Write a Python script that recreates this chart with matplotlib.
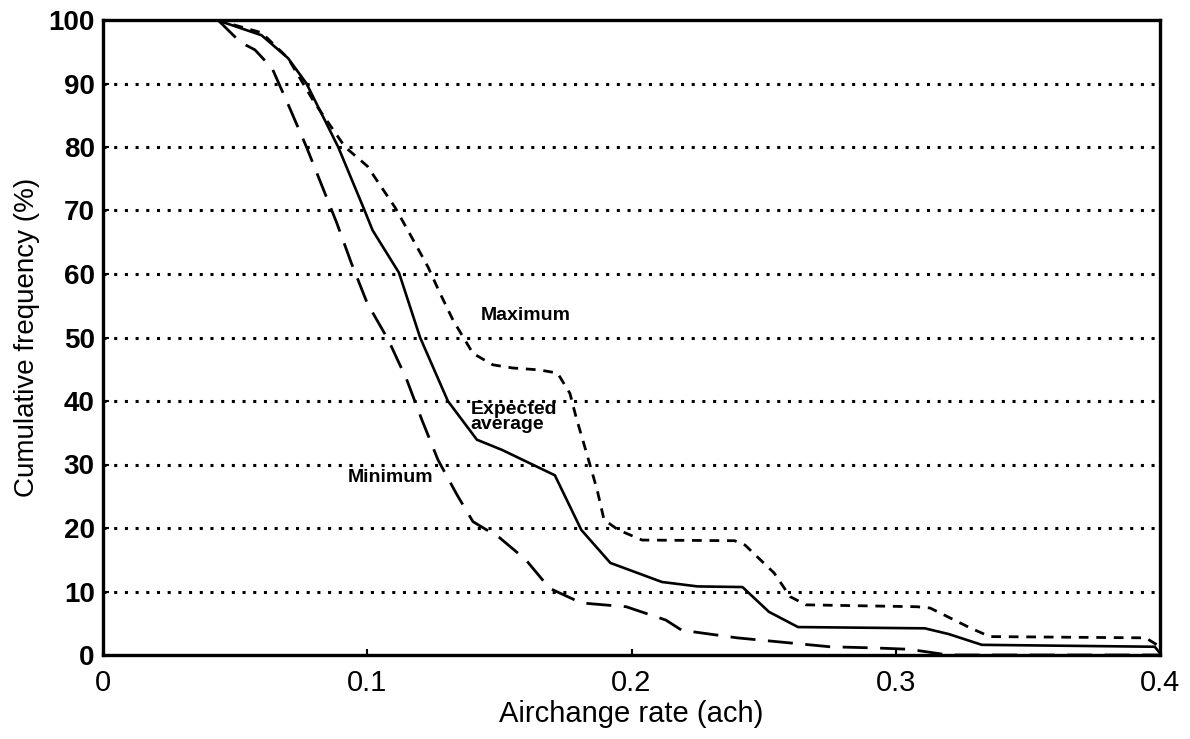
# -*- coding: utf-8 -*-

'''
cumulative frequency of airchange rate: minimum, expected average, maximum
'''

# %% =================== libraries ============================================

import matplotlib
matplotlib.use('Agg')
import matplotlib.pyplot as plt # plotting library


# %% =================== data =================================================

# expected average (solid line)
x_avg = [0.043, 0.060, 0.070, 0.077, 0.089, 0.099, 0.102, 0.112, 0.120, 0.1305,
         0.1415, 0.151, 0.171, 0.181, 0.192, 0.2115, 0.225, 0.242, 0.252, 0.263,
         0.311, 0.320, 0.3326, 0.398, 0.400]
y_avg = [100, 97.6, 94, 90, 80, 70, 66.9, 60.2, 50, 40,
         33.9, 32.3, 28.3, 19.7, 14.5, 11.5, 10.8, 10.7, 6.8, 4.4,
         4.2, 3.3, 1.6, 1.3, 0.3]

# maximum (short dashes)
x_max = [0.043, 0.060, 0.070, 0.080, 0.0916, 0.100, 0.1105, 0.116, 0.123, 0.1275,
         0.1325, 0.140, 0.1475, 0.155, 0.165, 0.172, 0.1767, 0.179, 0.183, 0.187,
         0.1896, 0.195, 0.204, 0.239, 0.243, 0.254, 0.260, 0.266, 0.308, 0.313,
         0.328, 0.3356, 0.3946, 0.400]
y_max = [100, 98, 94, 87, 80, 77, 70.5, 66.4, 61.1, 57,
         52.7, 47.5, 45.7, 45.2, 44.9, 44.4, 41.2, 37.5, 31.8, 26,
         21.3, 19.7, 18.1, 18, 17.3, 12.9, 9.2, 7.9, 7.6, 7.4,
         4.3, 2.9, 2.7, 1.3]

# minimum (long dashes)
x_min = [0.0435, 0.052, 0.0575, 0.064, 0.0708, 0.077, 0.0885, 0.094, 0.100, 0.108,
         0.115, 0.1207, 0.1268, 0.134, 0.140, 0.150, 0.160, 0.169, 0.181, 0.198,
         0.213, 0.219, 0.240, 0.260, 0.275, 0.293, 0.305, 0.320, 0.400]
y_min = [100, 96.5, 95.3, 92.4, 86, 80, 68, 61.7, 55.4, 49.6,
         43.3, 37, 30.7, 25.2, 21, 18.5, 15, 10.5, 8.2, 7.6,
         5.5, 3.9, 2.7, 1.9, 1.3, 1.1, 0.9, 0.0, 0.0]

# axis ticks
x_ticks = [0, 0.1, 0.2, 0.3, 0.4]
x_tick_labels = ['0', '0.1', '0.2', '0.3', '0.4']
y_ticks = [0, 10, 20, 30, 40, 50, 60, 70, 80, 90, 100]


# %% =================== figure ===============================================

plt.rcParams['font.family'] = ['Liberation Sans', 'DejaVu Sans']

fig = plt.figure(figsize=(11.9, 7.39), dpi=100)
ax = fig.add_axes([103/1190, 1 - 655/739, (1160 - 103)/1190, (655 - 20)/739])

# horizontal dotted grid
for yg in y_ticks[1:-1]:
    ax.axhline(yg, color='black', lw=2.2, linestyle=(0, (1, 2.5)),
               dash_capstyle='butt', zorder=1)

# the three curves
ax.plot(x_avg, y_avg, color='black', lw=1.9, zorder=3)
ax.plot(x_max, y_max, color='black', lw=2.0, linestyle=(0, (3.5, 2.8)), zorder=3)
ax.plot(x_min, y_min, color='black', lw=2.0, linestyle=(0, (9, 4.5)), zorder=3)

# curve labels
ax.text(0.143, 53.5, 'Maximum', fontsize=14, fontweight='bold',
        ha='left', va='center')
ax.text(0.139, 37.5, 'Expected\naverage', fontsize=14, fontweight='bold',
        ha='left', va='center', linespacing=0.85)
ax.text(0.0927, 28, 'Minimum', fontsize=14, fontweight='bold',
        ha='left', va='center')

# axes limits and ticks
ax.set_xlim(0, 0.4)
ax.set_ylim(0, 100)
ax.set_xticks(x_ticks)
ax.set_xticklabels(x_tick_labels, fontsize=21)
ax.set_yticks(y_ticks)
ax.set_yticklabels([str(v) for v in y_ticks], fontsize=20, fontweight='bold')
ax.tick_params(direction='in', length=4, width=1.5, pad=6)
ax.tick_params(axis='x', pad=10)

for s in ax.spines.values():
    s.set_linewidth(2.4)

ax.set_xlabel('Airchange rate (ach)', fontsize=21, labelpad=2)
ax.set_ylabel('Cumulative frequency (%)', fontsize=20, labelpad=6)

fig.savefig('out.png', dpi=100)
